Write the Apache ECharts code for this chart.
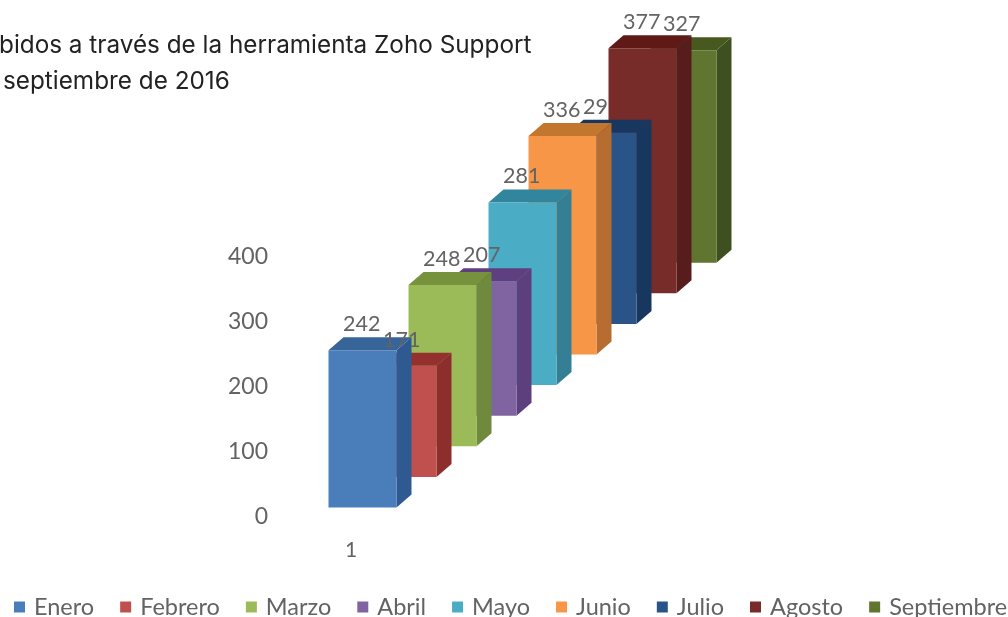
<!DOCTYPE html>
<html><head><meta charset="utf-8">
<style>html,body{margin:0;padding:0;background:#fff;overflow:hidden}#c{width:1008px;height:617px}</style>
<script src="https://cdn.jsdelivr.net/npm/echarts@6/dist/echarts.min.js"></script>
</head><body><div id="c"></div>
<script>
var categories = ['1'];
var months = ['Enero','Febrero','Marzo','Abril','Mayo','Junio','Julio','Agosto','Septiembre'];
var values = [242,171,248,207,281,336,294,377,327];
var shownLabels = ['242','171','248','207','281','336','29','377','327'];
var yTicks = [0,100,200,300,400];
var frontColors = ['#4a7ebb','#c0504d','#9bbb59','#8064a2','#4bacc6','#f79646','#2a5488','#772c2a','#5f7530'];
var sideColors  = ['#2f5a91','#8b2e2c','#6f8a3c','#5c3f7c','#357f94','#b66d2f','#17375e','#561d1c','#3f5020'];
var topColors   = ['#376499','#94302d','#76923c','#5f3f80','#31859c','#c2762e','#17375e','#5f1a18','#47591f'];
var titleLines = ['bidos a través de la herramienta Zoho Support','septiembre de 2016'];

var STEP_X=40, STEP_Y=-30.6, W=68, DX=15, DY=13, OFF_X=11.5, OFF_Y=-9.5;
function renderBar(i){
  return function(params, api){
    var base = api.coord([api.value(0), 0]);
    var top = api.coord([api.value(0), api.value(1)]);
    var cx = base[0]+OFF_X+STEP_X*i;
    var l = cx-W/2, r = cx+W/2;
    var shift = OFF_Y+STEP_Y*i;
    var yb = base[1]+shift, yt = top[1]+shift;
    var z = 10*(9-i);
    return {type:'group', children:[
      {type:'polygon', z2:z, shape:{points:[[r,yt],[r+DX,yt-DY],[r+DX,yb-DY],[r,yb]]}, style:{fill:sideColors[i]}},
      {type:'polygon', z2:z, shape:{points:[[l,yt],[l+DX,yt-DY],[r+DX,yt-DY],[r,yt]]}, style:{fill:topColors[i]}},
      {type:'rect', z2:z, shape:{x:l,y:yt,width:W,height:yb-yt}, style:{fill:frontColors[i]}},
      {type:'text', z2:500, style:{text:shownLabels[i], x:cx-19.5, y:yt-26, textAlign:'left', textVerticalAlign:'middle', fill:'#636363', font:'21.5px Lato'}}
    ]};
  };
}
var chart = echarts.init(document.getElementById('c'));
chart.setOption({
  animation:false,
  backgroundColor:'#fff',
  graphic:[
    {type:'text', left:-1, top:34, style:{text:titleLines[0], fill:'#222', font:'24.3px Inter'}},
    {type:'text', left:3, top:70, style:{text:titleLines[1], fill:'#222', font:'24.3px Inter'}}
  ],
  legend:{left:4, top:595, padding:[0,0,0,10], itemWidth:11, itemHeight:11, itemGap:26, icon:'rect',
    textStyle:{color:'#636363', fontFamily:'Lato', fontSize:23.5, padding:[0,0,0,4]}, data:months},
  grid:{left:280, width:142, top:257, height:260},
  xAxis:{type:'category', data:categories, axisLine:{show:false}, axisTick:{show:false}, splitLine:{show:false},
    axisLabel:{color:'#636363', fontFamily:'Lato', fontSize:21, margin:23}},
  yAxis:{type:'value', min:yTicks[0], max:yTicks[yTicks.length-1], interval:100, axisLine:{show:false}, axisTick:{show:false}, splitLine:{show:false},
    axisLabel:{color:'#636363', fontFamily:'Lato', fontSize:23, margin:12, padding:[5,0,0,0]}},
  series: months.map(function(m,i){
    return {type:'custom', name:m, clip:false, itemStyle:{color:frontColors[i]},
      encode:{x:0,y:1}, data:[[0,values[i]]], renderItem:renderBar(i)};
  })
});
</script></body></html>
